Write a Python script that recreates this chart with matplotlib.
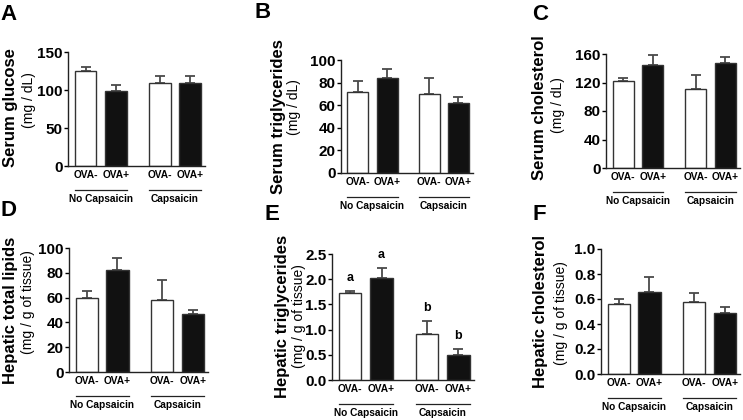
import numpy as np
import matplotlib
matplotlib.use('Agg')
import matplotlib.pyplot as plt
import matplotlib.transforms as mtransforms

plt.rcParams['font.family'] = ['Liberation Sans', 'DejaVu Sans']

# --- données ---
conditions = ['OVA-', 'OVA+', 'OVA-', 'OVA+']
groupes = ['No Capsaicin', 'Capsaicin']

glucose = [125, 99, 109, 109]
glucose_err = [5, 8, 10, 9]
tg_serum = [72, 84, 70, 62]
tg_serum_err = [9, 8, 14, 5]
chol_serum = [122, 145, 111, 148]
chol_serum_err = [5, 14, 19, 8]
lipides_foie = [60, 82, 58, 47]
lipides_foie_err = [5, 10, 16, 3]
tg_foie = [1.72, 2.02, 0.92, 0.50]
tg_foie_err = [0.05, 0.21, 0.25, 0.12]
tg_foie_lettres = ['a', 'a', 'b', 'b']
chol_foie = [0.56, 0.66, 0.58, 0.49]
chol_foie_err = [0.04, 0.12, 0.07, 0.05]

W, H = 743, 420
fig = plt.figure(figsize=(W / 100, H / 100), dpi=100)

pos = np.array([0, 1, 2.45, 3.45])
larg = 0.72
fill = ['white', '#111111', 'white', '#111111']


def px_axes(l, r, y0, ytop):
    return fig.add_axes([l / W, (H - y0) / H, (r - l) / W, (y0 - ytop) / H])


def panneau(ax, vals, errs, ymax, yticks, fmt):
    ax.bar(pos, vals, width=larg, color=fill, edgecolor='#333333', linewidth=1.0, zorder=2)
    ax.errorbar(pos, vals, yerr=[np.zeros(4), errs], fmt='none', ecolor='#4a4a4a',
                elinewidth=1.3, capsize=3.5, capthick=1.3, zorder=1)
    ax.set_ylim(0, ymax)
    ax.set_xlim(-0.58, 3.95)
    ax.set_yticks(yticks)
    ax.set_yticklabels([fmt.format(t) for t in yticks], fontsize=11, fontweight='bold')
    ax.set_xticks(pos)
    ax.set_xticklabels(conditions, fontsize=7.3, fontweight='bold')
    ax.tick_params(axis='x', length=0, pad=3)
    ax.tick_params(axis='y', length=3, width=1, pad=1)
    for s in ['top', 'right']:
        ax.spines[s].set_visible(False)
    for s in ['left', 'bottom']:
        ax.spines[s].set_linewidth(1.0)
        ax.spines[s].set_color('#222222')
    # traits et noms des groupes sous l'axe
    tr_line = ax.get_xaxis_transform() + mtransforms.ScaledTranslation(0, -24 / 100, fig.dpi_scale_trans)
    tr_txt = ax.get_xaxis_transform() + mtransforms.ScaledTranslation(0, -33 / 100, fig.dpi_scale_trans)
    for i, g in enumerate(groupes):
        a, b = pos[2 * i] - larg / 2, pos[2 * i + 1] + larg / 2
        ax.plot([a, b], [0, 0], color='#222222', lw=0.9, transform=tr_line, clip_on=False)
        ax.text((a + b) / 2, 0, g, transform=tr_txt, ha='center', va='center',
                fontsize=7.3, fontweight='bold')


def ylab(xb, xr, yb, yr, titre, unite):
    fig.text(xb / W, 1 - yb / H, titre, rotation=90, ha='center', va='center',
             fontsize=12, fontweight='bold')
    fig.text(xr / W, 1 - yr / H, unite, rotation=90, ha='center', va='center',
             fontsize=10)


def lettre(x, y, s):
    fig.text(x / W, 1 - y / H, s, ha='left', va='center', fontsize=16, fontweight='bold')


# A
ax = px_axes(68, 205, 166, 52)
panneau(ax, glucose, glucose_err, 150, [0, 50, 100, 150], '{:.0f}')
ylab(11, 29, 108, 100, 'Serum glucose', '(mg / dL)')
lettre(0, 14, 'A')

# B
ax = px_axes(341, 473, 173, 60)
panneau(ax, tg_serum, tg_serum_err, 100, [0, 20, 40, 60, 80, 100], '{:.0f}')
ylab(278, 294, 117, 107, 'Serum triglycerides', '(mg / dL)')
lettre(254, 13, 'B')

# C
ax = px_axes(606, 740, 168, 54)
panneau(ax, chol_serum, chol_serum_err, 160, [0, 40, 80, 120, 160], '{:.0f}')
ylab(540, 558, 108, 105, 'Serum cholesterol', '(mg / dL)')
lettre(532, 15, 'C')

# D
ax = px_axes(69, 208, 372, 248)
panneau(ax, lipides_foie, lipides_foie_err, 100, [0, 20, 40, 60, 80, 100], '{:.0f}')
ylab(11, 28, 310, 302, 'Hepatic total lipids', '(mg / g of tissue)')
lettre(0, 210, 'D')

# E
ax = px_axes(332, 474, 380, 254)
panneau(ax, tg_foie, tg_foie_err, 2.5, [0, 0.5, 1.0, 1.5, 2.0, 2.5], '{:.1f}')
for x, v, e, s in zip(pos, tg_foie, tg_foie_err, tg_foie_lettres):
    ax.annotate(s, (x, v + e), xytext=(0, 5), textcoords='offset points',
                ha='center', va='bottom', fontsize=9, fontweight='bold')
ylab(282, 299, 316, 316, 'Hepatic triglycerides', '(mg / g of tissue)')
lettre(264, 214, 'E')

# F
ax = px_axes(601, 740, 374, 249)
panneau(ax, chol_foie, chol_foie_err, 1.0, [0, 0.2, 0.4, 0.6, 0.8, 1.0], '{:.1f}')
ylab(541, 561, 311, 313, 'Hepatic cholesterol', '(mg / g of tissue)')
lettre(532, 214, 'F')

fig.savefig('out.png', dpi=100)
